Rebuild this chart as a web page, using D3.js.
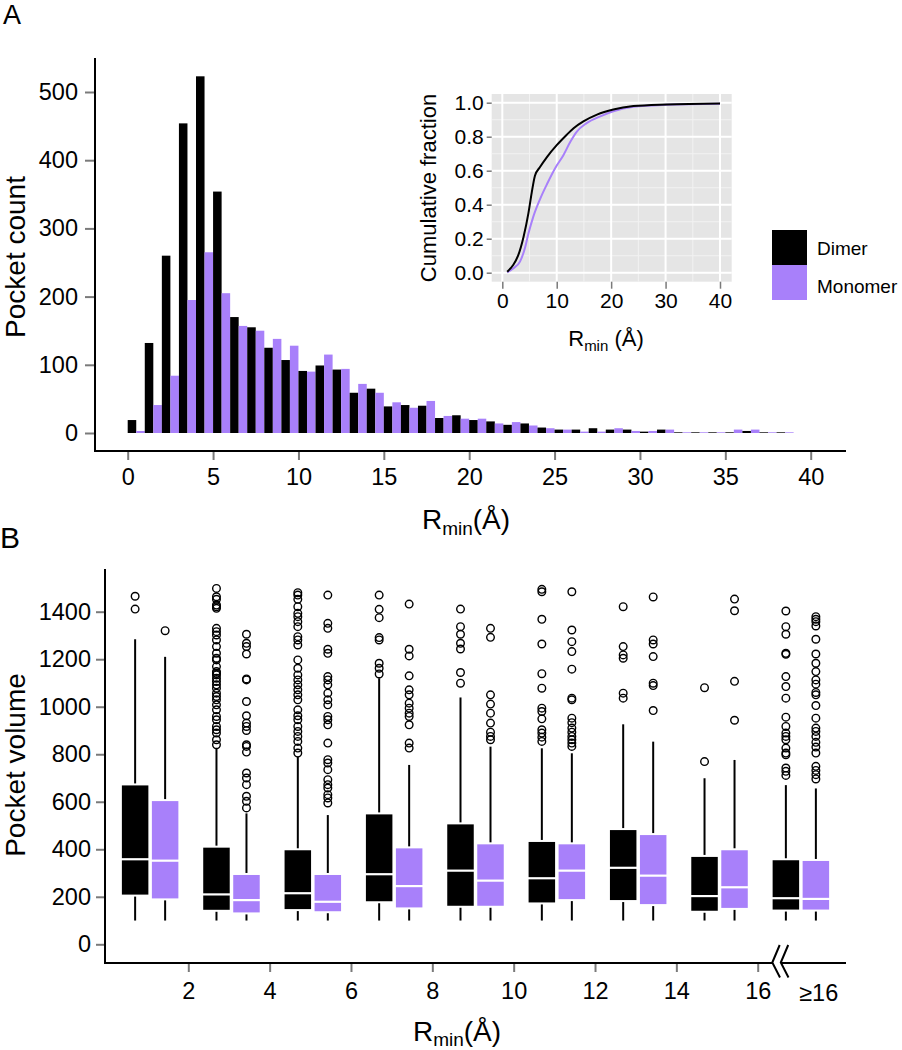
<!DOCTYPE html>
<html><head><meta charset="utf-8">
<script src="https://cdn.jsdelivr.net/npm/d3@7/dist/d3.min.js"></script>
<style>
body{margin:0;background:#fff}
svg{display:block}
text{font-family:"Liberation Sans",Arial,Helvetica,sans-serif;fill:#000}
</style>
</head><body>
<svg id="c" width="902" height="1050"></svg>
<script>
// ---------------- DATA ----------------
// Panel A histogram (1 Å bins)
const binStarts = [0,1,2,3,4,5,6,7,8,9,10,11,12,13,14,15,16,17,18,19,20,21,22,23,24,25,26,27,28,29,30,31,32,33,34,35,36,37,38];
const dimerCounts = [19,132,260,454,523,354,170,155,125,107,91,99,93,59,65,39,41,40,22,26,19,17,12,14,8,5,5,7,5,5,2,5,1,1,1,1,3,1,1];
const monomerCounts = [3,41,84,195,265,205,157,150,138,128,90,115,94,72,59,45,37,47,25,21,21,14,16,11,7,5,2,2,7,3,3,5,1,1,1,5,5,1,1];
const histYTicks = [0,100,200,300,400,500];
const histXTicks = [0,5,10,15,20,25,30,35,40];
const seriesNames = ["Dimer","Monomer"];

// Inset cumulative fraction
const cumDimerX = [0.9,2.0,2.9,3.9,4.8,5.4,6.0,6.9,8.2,10,11.8,13.1,14.9,17.4,20.4,24.1,30.2,40];
const cumDimerY = [0.006,0.045,0.10,0.21,0.35,0.47,0.57,0.62,0.68,0.75,0.81,0.85,0.89,0.93,0.96,0.98,0.99,0.996];
const cumMonoX = [0.9,2.0,3.25,4.2,4.8,5.7,6.9,8.2,10,11.2,12.5,13.7,15.5,18,20.4,24.1,30.2,40];
const cumMonoY = [0.002,0.025,0.065,0.15,0.23,0.33,0.43,0.52,0.63,0.69,0.77,0.83,0.88,0.92,0.95,0.976,0.988,0.994];
const insetXTicks = [0,10,20,30,40];
const insetYTicks = [0,0.2,0.4,0.6,0.8,1.0];

// Panel B box plots
const groupPos = [1,3,5,7,9,11,13,15,17];
const boxXTicks = [2,4,6,8,10,12,14,16];
const boxYTicks = [0,200,400,600,800,1000,1200,1400];
const dimerQ1  = [205,141,144,177,158,172,182,137,142];
const dimerMed = [358,210,215,295,310,278,322,203,194];
const dimerQ3  = [673,411,400,551,509,435,485,372,358];
const dimerLo  = [100,100,100,100,100,100,100,100,100];
const dimerHi  = [1284,825,790,1120,1039,825,926,699,670];
const monoQ1   = [189,130,135,151,158,186,165,149,142];
const monoMed  = [352,186,179,245,268,310,289,240,191];
const monoQ3   = [607,296,296,408,425,425,464,400,355];
const monoLo   = [100,100,100,100,100,100,100,100,100];
const monoHi   = [1210,551,544,755,832,804,853,776,656];
const dimerOut = [
 [1465,1411],
 [1498,1463,1452,1428,1421,1414,1330,1316,1302,1281,1253,1225,1204,1197,1169,1148,1141,1134,1120,1106,1092,1078,1057,1043,1029,1008,987,959,945,917,903,889,861,840],
 [1480,1470,1452,1421,1393,1379,1358,1337,1295,1281,1260,1197,1162,1134,1113,1092,1071,1050,1029,987,962,945,917,896,875,854,826,805],
 [1470,1410,1375,1291,1281,1183,1162,1138],
 [1411,1337,1305,1267,1243,1144,1099],
 [1494,1484,1368,1264,1139,1078,994,980,949,903,889,872,854],
 [1421,1253,1218,1204,1057,1036],
 [1080,769],
 [1403,1337,1305,1225,1221,1127,1085,1036,956,917,889,875,861,826,805,798,742,728,711]
];
const monoOut = [
 [1320],
 [1305,1267,1253,1222,1117,1113,1022,962,931,917,900,840,833,809,721,700,672,623,602,574],
 [1470,1351,1330,1242,1225,1127,1113,1092,1057,1029,1008,959,945,924,847,777,763,735,693,672,658,630,616,595],
 [1432,1242,1214,1130,1071,1050,1015,994,973,959,924,847,826],
 [1330,1292,1050,1011,973,931,893,875,861],
 [1484,1323,1274,1232,1158,1036,1029,952,933,910,893,875,861,847,833],
 [1462,1281,1264,1211,1099,1089,984],
 [1453,1404,1107,943],
 [1379,1368,1358,1340,1284,1222,1183,1148,1113,1095,1060,1050,1005,952,910,896,875,850,830,805,749,732,714,696]
];

// ---------------- STYLE ----------------
const BLACK = "#000000", PURPLE = "#a880fa", TICK = "#7a7a7a";
const svg = d3.select("#c");

// ============ PANEL A ============
const xA = d3.scaleLinear().domain([0,40]).range([127.7,810.7]);
const yA = d3.scaleLinear().domain([0,500]).range([433,92]);
const gA = svg.append("g");

gA.append("text").attr("x",3).attr("y",24).attr("font-size",27).text("A");

// bars
binStarts.forEach((b,i)=>{
  gA.append("rect").attr("x",xA(b)).attr("width",xA(b+0.5)-xA(b))
    .attr("y",yA(dimerCounts[i])).attr("height",yA(0)-yA(dimerCounts[i])).attr("fill",BLACK);
  gA.append("rect").attr("x",xA(b+0.5)).attr("width",xA(b+1)-xA(b+0.5))
    .attr("y",yA(monomerCounts[i])).attr("height",yA(0)-yA(monomerCounts[i])).attr("fill",PURPLE);
});

// axes
const axYA = gA.append("g").attr("transform","translate(95,0)")
  .call(d3.axisLeft(yA).tickValues(histYTicks).tickSize(10).tickPadding(7));
const axXA = gA.append("g").attr("transform","translate(0,451)")
  .call(d3.axisBottom(xA).tickValues(histXTicks).tickSize(9).tickPadding(8));
[axYA,axXA].forEach(a=>{
  a.select(".domain").remove();
  a.selectAll(".tick line").attr("stroke",TICK).attr("stroke-width",2);
  a.selectAll(".tick text").attr("font-size",23.5).attr("font-family","Liberation Sans, Arial, sans-serif").attr("fill","#000");
});
gA.append("line").attr("x1",95).attr("x2",95).attr("y1",58).attr("y2",452).attr("stroke","#000").attr("stroke-width",2);
gA.append("line").attr("x1",94).attr("x2",846).attr("y1",451).attr("y2",451).attr("stroke","#000").attr("stroke-width",2);

gA.append("text").attr("transform","translate(25,257) rotate(-90)").attr("text-anchor","middle")
  .attr("font-size",28).text("Pocket count");
const tA = gA.append("text").attr("x",466).attr("y",529).attr("text-anchor","middle").attr("font-size",28);
tA.append("tspan").text("R");
tA.append("tspan").attr("font-size",19).attr("dy",6).text("min");
tA.append("tspan").attr("dy",-6).text("(Å)");

// legend
const legColors = [BLACK,PURPLE];
seriesNames.forEach((n,i)=>{
  gA.append("rect").attr("x",772).attr("y",230+i*35).attr("width",35).attr("height",35).attr("fill",legColors[i]);
  gA.append("text").attr("x",817).attr("y",255+i*37.5).attr("font-size",19).text(n);
});

// ============ INSET ============
const xI = d3.scaleLinear().domain([0,40]).range([502.3,720]);
const yI = d3.scaleLinear().domain([0,1]).range([272.7,102.7]);
const gI = svg.append("g");
gI.append("rect").attr("x",491.7).attr("y",94).attr("width",240).attr("height",187.7).attr("fill","#e5e5e5");
[5,15,25,35].forEach(v=>gI.append("line").attr("x1",xI(v)).attr("x2",xI(v)).attr("y1",94).attr("y2",281.7).attr("stroke","#f2f2f2").attr("stroke-width",1));
[0.1,0.3,0.5,0.7,0.9].forEach(v=>gI.append("line").attr("y1",yI(v)).attr("y2",yI(v)).attr("x1",491.7).attr("x2",731.7).attr("stroke","#f2f2f2").attr("stroke-width",1));
insetXTicks.forEach(v=>gI.append("line").attr("x1",xI(v)).attr("x2",xI(v)).attr("y1",94).attr("y2",281.7).attr("stroke","#fff").attr("stroke-width",2));
insetYTicks.forEach(v=>gI.append("line").attr("y1",yI(v)).attr("y2",yI(v)).attr("x1",491.7).attr("x2",731.7).attr("stroke","#fff").attr("stroke-width",2));

const line = d3.line().x(d=>xI(d[0])).y(d=>yI(d[1])).curve(d3.curveMonotoneX);
gI.append("path").datum(cumMonoX.map((x,i)=>[x,cumMonoY[i]])).attr("d",line).attr("fill","none").attr("stroke",PURPLE).attr("stroke-width",2);
gI.append("path").datum(cumDimerX.map((x,i)=>[x,cumDimerY[i]])).attr("d",line).attr("fill","none").attr("stroke",BLACK).attr("stroke-width",2);

const axYI = gI.append("g").attr("transform","translate(491.7,0)")
  .call(d3.axisLeft(yI).tickValues(insetYTicks).tickFormat(d3.format(".1f")).tickSize(5).tickPadding(3));
const axXI = gI.append("g").attr("transform","translate(0,281.7)")
  .call(d3.axisBottom(xI).tickValues(insetXTicks).tickSize(7).tickPadding(4));
[axYI,axXI].forEach(a=>{
  a.select(".domain").remove();
  a.selectAll(".tick line").attr("stroke",TICK).attr("stroke-width",1.5);
  a.selectAll(".tick text").attr("font-size",21).attr("font-family","Liberation Sans, Arial, sans-serif").attr("fill","#000");
});
gI.append("text").attr("transform","translate(436,188) rotate(-90)").attr("text-anchor","middle")
  .attr("font-size",22).text("Cumulative fraction");
const tI = gI.append("text").attr("x",606).attr("y",346).attr("text-anchor","middle").attr("font-size",22);
tI.append("tspan").text("R");
tI.append("tspan").attr("font-size",15).attr("dy",5).text("min");
tI.append("tspan").attr("dy",-5).text(" (Å)");

// ============ PANEL B ============
const xB = d3.scaleLinear().domain([2,16]).range([188.3,757.7]);
const yB = d3.scaleLinear().domain([0,1400]).range([944.3,611.7]);
const gB = svg.append("g");
gB.append("text").attr("x",0).attr("y",548).attr("font-size",30).text("B");

const BW = 28.5, OFF = 15;
const series = [
  {q1:dimerQ1,med:dimerMed,q3:dimerQ3,lo:dimerLo,hi:dimerHi,out:dimerOut,col:BLACK,dx:-OFF},
  {q1:monoQ1,med:monoMed,q3:monoQ3,lo:monoLo,hi:monoHi,out:monoOut,col:PURPLE,dx:OFF}
];
series.forEach(s=>{
  groupPos.forEach((g,i)=>{
    const cx = xB(g)+2.5+s.dx;
    gB.append("line").attr("x1",cx).attr("x2",cx).attr("y1",yB(s.hi[i])).attr("y2",yB(s.q3[i])).attr("stroke","#000").attr("stroke-width",2);
    gB.append("line").attr("x1",cx).attr("x2",cx).attr("y1",yB(s.q1[i])).attr("y2",yB(s.lo[i])).attr("stroke","#000").attr("stroke-width",2);
    gB.append("rect").attr("x",cx-BW/2).attr("width",BW).attr("y",yB(s.q3[i])).attr("height",yB(s.q1[i])-yB(s.q3[i]))
      .attr("fill",s.col).attr("stroke","#fff").attr("stroke-width",2);
    gB.append("line").attr("x1",cx-BW/2).attr("x2",cx+BW/2).attr("y1",yB(s.med[i])).attr("y2",yB(s.med[i])).attr("stroke","#fff").attr("stroke-width",2.2);
    s.out[i].forEach(v=>gB.append("circle").attr("cx",cx).attr("cy",yB(v)).attr("r",3.8)
      .attr("fill","none").attr("stroke","#000").attr("stroke-width",1.4));
  });
});

const axYB = gB.append("g").attr("transform","translate(105,0)")
  .call(d3.axisLeft(yB).tickValues(boxYTicks).tickSize(9).tickPadding(5).tickFormat(d3.format("d")));
const axXB = gB.append("g").attr("transform","translate(0,963)")
  .call(d3.axisBottom(xB).tickValues(boxXTicks).tickSize(9).tickPadding(10));
[axYB,axXB].forEach(a=>{
  a.select(".domain").remove();
  a.selectAll(".tick line").attr("stroke",TICK).attr("stroke-width",2);
  a.selectAll(".tick text").attr("font-size",23.5).attr("font-family","Liberation Sans, Arial, sans-serif").attr("fill","#000");
});
gB.append("line").attr("x1",105).attr("x2",105).attr("y1",569).attr("y2",964).attr("stroke","#000").attr("stroke-width",2);
gB.append("line").attr("x1",104).attr("x2",772).attr("y1",963).attr("y2",963).attr("stroke","#000").attr("stroke-width",2);
gB.append("line").attr("x1",781).attr("x2",846).attr("y1",963).attr("y2",963).attr("stroke","#000").attr("stroke-width",2);
// axis break
[0,8.5].forEach(d=>{
  gB.append("path").attr("d",`M${779.7+d},945 L${772.3+d},962.5 L${780+d},977.5`).attr("fill","none").attr("stroke","#000").attr("stroke-width",2);
});
gB.append("text").attr("x",xB(17.5)).attr("y",1001).attr("text-anchor","middle").attr("font-size",23.5).text("≥16");

gB.append("text").attr("transform","translate(25,765) rotate(-90)").attr("text-anchor","middle")
  .attr("font-size",28).text("Pocket volume");
const tB = gB.append("text").attr("x",457).attr("y",1041).attr("text-anchor","middle").attr("font-size",28);
tB.append("tspan").text("R");
tB.append("tspan").attr("font-size",19).attr("dy",5).text("min");
tB.append("tspan").attr("dy",-5).text("(Å)");
</script>
</body></html>
